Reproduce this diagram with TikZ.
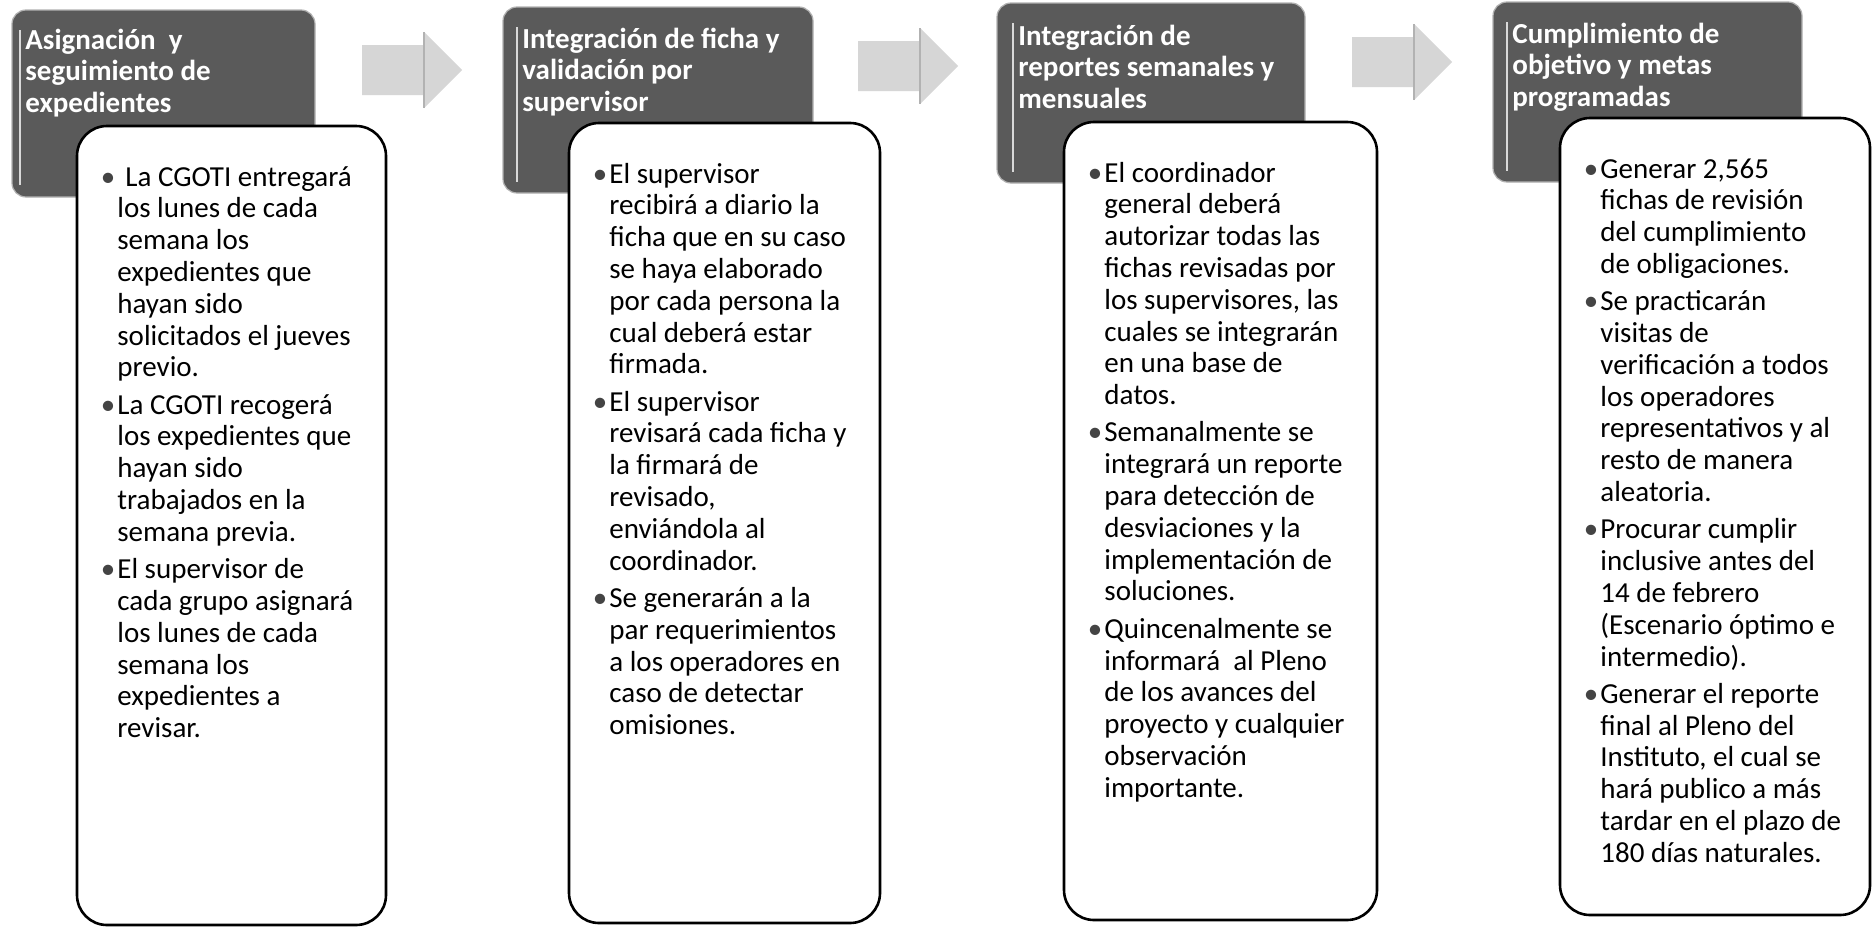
\documentclass[tikz,border=0pt]{standalone}
\usepackage{fontspec}
\setmainfont{Carlito}
\usetikzlibrary{fit}
\definecolor{hdrfill}{HTML}{5A5A5A}
\definecolor{arrfill}{HTML}{D6D6D6}
\definecolor{bulcol}{HTML}{444444}
\newcommand\bul{\leavevmode\llap{\textcolor{bulcol}{•}\kern1pt}}
\tikzset{x=0.5pt,y=-0.5pt,
  hdr/.style={fill=hdrfill, draw=gray!60, line width=0.6pt, rounded corners=7pt, inner sep=0pt},
  hstripe/.style={draw=gray!30, line width=0.8pt},
  txtbox/.style={fill=white, draw=black, line width=1.3pt, rounded corners=15pt, inner sep=0pt},
  arr/.style={fill=arrfill, draw=none},
  arrline/.style={draw=gray!60, line width=0.6pt},
  htext/.style={anchor=base west, inner sep=0pt, text=white, font=\bfseries\fontsize{14.5}{15.9}\selectfont},
  btext/.style={anchor=base west, inner sep=0pt, font=\fontsize{14.5}{15.9}\selectfont},
}
\begin{document}
\begin{tikzpicture}
\path[use as bounding box, fill=white] (0,0) rectangle (1873,926);

% headers
\node[hdr, fit={(12,10) (315,197)}] (h1) {};
\node[hdr, fit={(503,7) (813,193)}] (h2) {};
\node[hdr, fit={(997,3) (1305,183)}] (h3) {};
\node[hdr, fit={(1493,2) (1802,182)}] (h4) {};
\draw[hstripe] (20,30) -- (20,185);
\draw[hstripe] (517,27) -- (517,182);
\draw[hstripe] (1013,23) -- (1013,172);
\draw[hstripe] (1507,22) -- (1507,171);

% header texts
\node[htext] (ht1) at (25,49) {\parbox[t]{290pt}{\raggedright Asignación~ y\\seguimiento de\\expedientes}};
\node[htext] (ht2) at (522,48) {\parbox[t]{290pt}{\raggedright Integración de ficha y\\validación por\\supervisor}};
\node[htext] (ht3) at (1018,45) {\parbox[t]{290pt}{\raggedright Integración de\\reportes semanales y\\mensuales}};
\node[htext] (ht4) at (1512,43) {\parbox[t]{290pt}{\raggedright Cumplimiento de\\objetivo y metas\\programadas}};

% arrows
\foreach \x/\c [count=\i] in {362/70, 858/66, 1352/62}{
  \path[arr] (\x,\c-25) -- (\x+62,\c-25) -- (\x+62,\c-38) -- (\x+100,\c) -- (\x+62,\c+38) -- (\x+62,\c+25) -- (\x,\c+25) -- cycle;
  \draw[arrline] (\x+62,\c-38) -- (\x+62,\c+38);
}

% text boxes
\node[txtbox, fit={(77,126) (386,925)}] (b1) {};
\node[txtbox, fit={(569,123) (880,923)}] (b2) {};
\node[txtbox, fit={(1064,122) (1377,920)}] (b3) {};
\node[txtbox, fit={(1560,118) (1870,915)}] (b4) {};

% body texts
\node[btext] (t1) at (117,186) {\parbox[t]{300pt}{\raggedright
\bul\hspace{4pt}La CGOTI entregará\\los lunes de cada\\semana los\\expedientes que\\hayan sido\\solicitados el jueves\\previo.\\[2.75pt]
\bul La CGOTI recogerá\\los expedientes que\\hayan sido\\trabajados en la\\semana previa.\\[2.75pt]
\bul El supervisor de\\cada grupo asignará\\los lunes de cada\\semana los\\expedientes a\\revisar.}};

\node[btext] (t2) at (609,183) {\parbox[t]{300pt}{\raggedright
\bul El supervisor\\recibirá a diario la\\ficha que en su caso\\se haya elaborado\\por cada persona la\\cual deberá estar\\firmada.\\[2.75pt]
\bul El supervisor\\revisará cada ficha y\\la firmará de\\revisado,\\enviándola al\\coordinador.\\[2.75pt]
\bul Se generarán a la\\par requerimientos\\a los operadores en\\caso de detectar\\omisiones.}};

\node[btext] (t3) at (1104,182) {\parbox[t]{300pt}{\raggedright
\bul El coordinador\\general deberá\\autorizar todas las\\fichas revisadas por\\los supervisores, las\\cuales se integrarán\\en una base de\\datos.\\[2.75pt]
\bul Semanalmente se\\integrará un reporte\\para detección de\\desviaciones y la\\implementación de\\soluciones.\\[2.75pt]
\bul Quincenalmente se\\informará~ al Pleno\\de los avances del\\proyecto y cualquier\\observación\\importante.}};

\node[btext] (t4) at (1600,178) {\parbox[t]{300pt}{\raggedright
\bul Generar 2,565\\fichas de revisión\\del cumplimiento\\de obligaciones.\\[2.75pt]
\bul Se practicarán\\visitas de\\verificación a todos\\los operadores\\representativos y al\\resto de manera\\aleatoria.\\[2.75pt]
\bul Procurar cumplir\\inclusive antes del\\14 de febrero\\(Escenario óptimo e\\intermedio).\\[2.75pt]
\bul Generar el reporte\\final al Pleno del\\Instituto, el cual se\\hará publico a más\\tardar en el plazo de\\180 días naturales.}};
\end{tikzpicture}
\end{document}
